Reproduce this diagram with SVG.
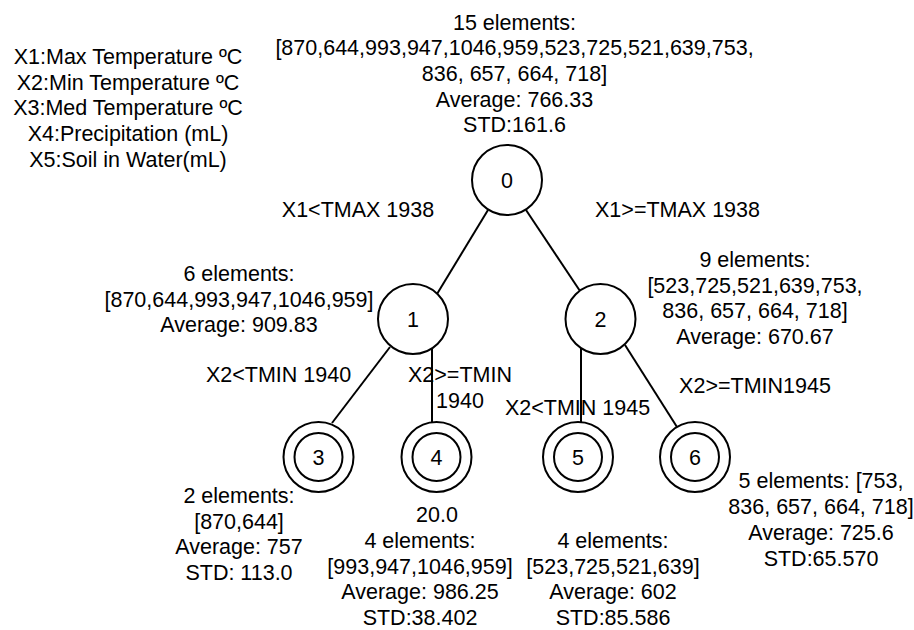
<svg xmlns="http://www.w3.org/2000/svg" width="914" height="630" viewBox="0 0 914 630">
  <style>
    text { font-family: "Liberation Sans", Arial, sans-serif; font-size: 21.5px; fill: #000; text-anchor: middle; }
    .node circle { fill: #fff; stroke: #000; stroke-width: 2; }
    #connectors line { stroke: #000; stroke-width: 2; }
  </style>
  <rect width="914" height="630" fill="#fff"/>

  <!-- variable legend -->
  <g id="legend">
    <text x="128" y="64">X1:Max Temperature ºC</text>
    <text x="128" y="89.7">X2:Min Temperature ºC</text>
    <text x="128" y="115.4">X3:Med Temperature ºC</text>
    <text x="128" y="141.1">X4:Precipitation (mL)</text>
    <text x="128" y="166.8">X5:Soil in Water(mL)</text>
  </g>

  <!-- tree edges -->
  <g id="connectors">
    <line x1="488" y1="210" x2="437" y2="294"/>
    <line x1="526" y1="210" x2="580" y2="291"/>
    <line x1="390" y1="347" x2="332" y2="423"/>
    <line x1="432" y1="348" x2="432" y2="422.5"/>
    <line x1="581" y1="348" x2="581" y2="422.5"/>
    <line x1="625" y1="345" x2="677" y2="427"/>
  </g>

  <!-- split conditions -->
  <g id="edge-labels">
    <text x="358" y="217">X1&lt;TMAX 1938</text>
    <text x="677.5" y="217">X1&gt;=TMAX 1938</text>
    <text x="278.5" y="382">X2&lt;TMIN 1940</text>
    <text x="460" y="382">X2&gt;=TMIN</text>
    <text x="460" y="408">1940</text>
    <text x="577.5" y="415">X2&lt;TMIN 1945</text>
    <text x="755" y="393">X2&gt;=TMIN1945</text>
  </g>

  <g id="node0" class="node">
    <circle cx="507" cy="180" r="35"/>
    <text x="507" y="188">0</text>
    <text x="514.5" y="29.5">15 elements:</text>
    <text x="514.5" y="55.2">[870,644,993,947,1046,959,523,725,521,639,753,</text>
    <text x="514.5" y="80.9">836, 657, 664, 718]</text>
    <text x="514.5" y="106.6">Average: 766.33</text>
    <text x="514.5" y="132.3">STD:161.6</text>
  </g>

  <g id="node1" class="node">
    <circle cx="413" cy="319" r="35"/>
    <text x="413" y="327">1</text>
    <text x="239" y="281">6 elements:</text>
    <text x="239" y="306.5">[870,644,993,947,1046,959]</text>
    <text x="239" y="332">Average: 909.83</text>
  </g>

  <g id="node2" class="node">
    <circle cx="600.5" cy="319" r="35"/>
    <text x="600.5" y="327">2</text>
    <text x="755" y="267">9 elements:</text>
    <text x="755" y="292.7">[523,725,521,639,753,</text>
    <text x="755" y="318.4">836, 657, 664, 718]</text>
    <text x="755" y="344.1">Average: 670.67</text>
  </g>

  <g id="node3" class="node">
    <circle cx="318.5" cy="457" r="35"/>
    <circle cx="318.5" cy="457" r="24"/>
    <text x="318.5" y="465">3</text>
    <text x="239" y="503">2 elements:</text>
    <text x="239" y="528.7">[870,644]</text>
    <text x="239" y="554.4">Average: 757</text>
    <text x="239" y="580.1">STD: 113.0</text>
  </g>

  <g id="node4" class="node">
    <circle cx="436.5" cy="457" r="35"/>
    <circle cx="436.5" cy="457" r="24"/>
    <text x="436.5" y="465">4</text>
    <text x="437" y="522">20.0</text>
    <text x="420" y="547.9">4 elements:</text>
    <text x="420" y="573.6">[993,947,1046,959]</text>
    <text x="420" y="599.3">Average: 986.25</text>
    <text x="420" y="625">STD:38.402</text>
  </g>

  <g id="node5" class="node">
    <circle cx="578" cy="457" r="35"/>
    <circle cx="578" cy="457" r="24"/>
    <text x="578" y="465">5</text>
    <text x="613" y="547.9">4 elements:</text>
    <text x="613" y="573.6">[523,725,521,639]</text>
    <text x="613" y="599.3">Average: 602</text>
    <text x="613" y="625">STD:85.586</text>
  </g>

  <g id="node6" class="node">
    <circle cx="695" cy="457" r="35"/>
    <circle cx="695" cy="457" r="24"/>
    <text x="695" y="465">6</text>
    <text x="821" y="488">5 elements: [753,</text>
    <text x="821" y="514">836, 657, 664, 718]</text>
    <text x="821" y="540">Average: 725.6</text>
    <text x="821" y="566">STD:65.570</text>
  </g>
</svg>
